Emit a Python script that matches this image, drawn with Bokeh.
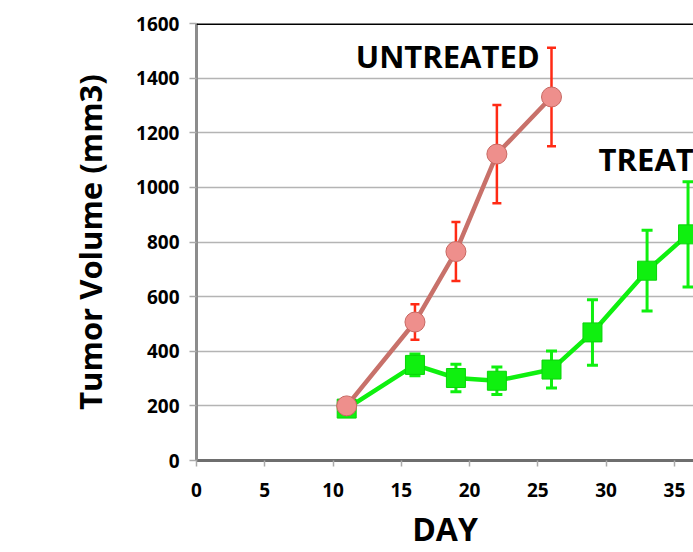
from bokeh.plotting import figure
from bokeh.models import ColumnDataSource, Whisker, TeeHead, Span, Range1d, FixedTicker, Label
from bokeh.embed import file_html
from bokeh.resources import INLINE

# Data
untreated_day = [11, 16, 19, 22, 26]
untreated_vol = [200, 507, 765, 1122, 1331]
untreated_err = [0, 65, 108, 180, 180]

treated_day = [11, 16, 19, 22, 26, 29, 33, 36]
treated_vol = [190, 350, 302, 292, 333, 469, 695, 828]
treated_err = [0, 40, 50, 50, 68, 120, 148, 193]

x_ticks = [0, 5, 10, 15, 20, 25, 30, 35]
y_ticks = [0, 200, 400, 600, 800, 1000, 1200, 1400, 1600]

FONT = "Open Sans"

p = figure(width=693, height=552, output_backend="svg", toolbar_location=None,
           x_range=Range1d(0, 36.4), y_range=Range1d(0, 1600),
           min_border_left=196, min_border_right=0, min_border_top=23, min_border_bottom=92)
p.outline_line_color = None
p.background_fill_color = "white"

p.xgrid.grid_line_color = None
p.ygrid.grid_line_color = "#b4b4b4"
p.ygrid.grid_line_width = 1.5
p.ygrid.ticker = FixedTicker(ticks=y_ticks)

p.xaxis.ticker = FixedTicker(ticks=x_ticks)
p.yaxis.ticker = FixedTicker(ticks=y_ticks)
for ax in (p.xaxis[0], p.yaxis[0]):
    ax.major_label_text_font = FONT
    ax.major_label_text_font_style = "bold"
    ax.major_label_text_font_size = "19px"
    ax.major_label_text_color = "black"
    ax.minor_tick_line_color = None
    ax.major_tick_in = 0
    ax.axis_label_text_font = FONT
    ax.axis_label_text_font_style = "bold"
    ax.axis_label_text_color = "black"

p.xaxis.axis_line_color = "#6e6e6e"
p.xaxis.axis_line_width = 3
p.xaxis.major_tick_line_color = "#aaaaaa"
p.xaxis.major_tick_line_width = 1.5
p.xaxis.major_tick_out = 6
p.xaxis.major_label_standoff = 16
p.xaxis.axis_label = "DAY"
p.xaxis.axis_label_text_font_size = "32px"
p.xaxis.axis_label_standoff = 7

p.yaxis.axis_line_color = "#8c8c8c"
p.yaxis.axis_line_width = 3
p.yaxis.major_tick_line_color = "#aaaaaa"
p.yaxis.major_tick_line_width = 1.5
p.yaxis.major_tick_out = 7
p.yaxis.major_label_standoff = 10
p.yaxis.axis_label = "Tumor Volume (mm3)"
p.yaxis.axis_label_text_font_size = "31px"
p.yaxis.axis_label_standoff = 22

p.add_layout(Span(location=1600, dimension="width", line_color="black", line_width=3))

us = ColumnDataSource(dict(x=untreated_day, y=untreated_vol,
                           lo=[v - e for v, e in zip(untreated_vol, untreated_err)],
                           hi=[v + e for v, e in zip(untreated_vol, untreated_err)]))
ts = ColumnDataSource(dict(x=treated_day, y=treated_vol,
                           lo=[v - e for v, e in zip(treated_vol, treated_err)],
                           hi=[v + e for v, e in zip(treated_vol, treated_err)]))

green = "#0ff00f"
red_line = "#c8716a"
red_err = "#ff2a14"

# Treated
tw = Whisker(base="x", lower="lo", upper="hi", source=ts, line_color=green, line_width=3,
             upper_head=TeeHead(size=11, line_color=green, line_width=3),
             lower_head=TeeHead(size=11, line_color=green, line_width=3), level="underlay")
p.add_layout(tw)
p.line("x", "y", source=ts, line_color=green, line_width=4.5)
p.scatter("x", "y", source=ts, marker="square", size=19, fill_color=green, line_color="#0ad40a", line_width=1)

# Untreated
uw = Whisker(base="x", lower="lo", upper="hi", source=us, line_color=red_err, line_width=2.5,
             upper_head=TeeHead(size=9, line_color=red_err, line_width=2.5),
             lower_head=TeeHead(size=9, line_color=red_err, line_width=2.5), level="underlay")
p.add_layout(uw)
p.line("x", "y", source=us, line_color=red_line, line_width=4.5)
p.scatter("x", "y", source=us, marker="circle", size=20, fill_color="#ee8f8c", line_color="#c86862", line_width=1)

p.add_layout(Label(x=18.4, y=1482, text="UNTREATED", text_font=FONT, text_font_style="bold",
                   text_font_size="31px", text_color="black", text_align="center", text_baseline="middle"))
p.add_layout(Label(x=29.45, y=1105, text="TREATED", text_font=FONT, text_font_style="bold",
                   text_font_size="31px", text_color="black", text_align="left", text_baseline="middle"))

open("out.html", "w").write(file_html(p, INLINE))
